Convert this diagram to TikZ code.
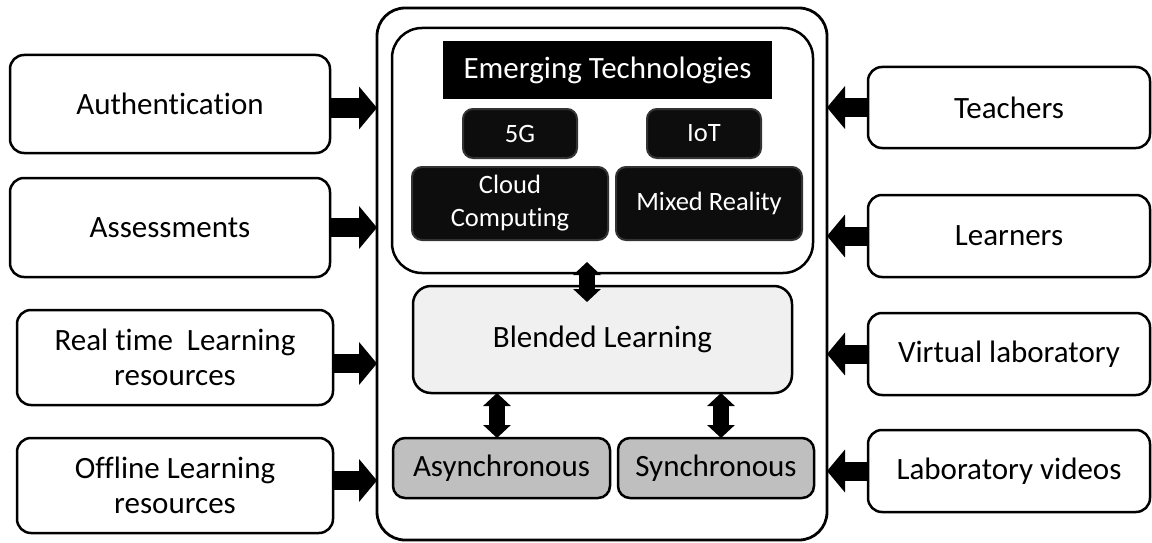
\documentclass[tikz,border=0pt]{standalone}
\usepackage{fontspec}
\setmainfont{Carlito}[Ligatures=NoCommon]
\usetikzlibrary{arrows.meta}
\begin{document}
\begin{tikzpicture}[x=1pt,y=-1pt,
  sidebox/.style={draw=black, line width=2.5pt, rounded corners=14pt, fill=white,
    inner sep=0pt, outer sep=0pt, align=center,
    font=\fontsize{31}{35}\selectfont},
  darkbox/.style={draw=black!80, line width=2pt, rounded corners=10pt, fill=black!95,
    text=white, inner sep=0pt, outer sep=0pt, align=center,
    font=\fontsize{26.5}{33}\selectfont},
  greybox/.style={draw=black, line width=2.5pt, rounded corners=12pt,
    inner sep=0pt, outer sep=0pt, align=center, font=\fontsize{31}{35}\selectfont},
  inarrow/.style={line width=19pt, -{Triangle[length=18pt,width=42pt]}},
  dblarrow/.style={line width=16pt, {Triangle[length=13pt,width=27pt]}-{Triangle[length=13pt,width=27pt]}}
]
\useasboundingbox (0,0) rectangle (1152,543);
% outer and inner frames
\node[draw=black, line width=2.8pt, rounded corners=28pt, minimum width=450pt, minimum height=532pt, inner sep=0pt, outer sep=0pt] (outer) at (602,274) {};
\node[draw=black, line width=2.5pt, rounded corners=30pt, minimum width=421pt, minimum height=245pt, inner sep=0pt, outer sep=0pt] (inner) at (602.5,150.5) {};
% emerging technologies
\node[fill=black, text=white, minimum width=329pt, minimum height=58pt, inner sep=0pt, font=\fontsize{31}{35}\selectfont] (emerg) at (607.5,70) {Emerging Technologies};
\node[darkbox, minimum width=114pt, minimum height=49pt] (g5) at (520,133.5) {5G};
\node[darkbox, minimum width=114pt, minimum height=49pt] (iot) at (704,133.5) {IoT};
\node[darkbox, minimum width=196pt, minimum height=73pt] (cloud) at (510,203.5) {Cloud\\Computing};
\node[darkbox, minimum width=186pt, minimum height=73pt] (mixed) at (709,203.5) {Mixed Reality};
% blended learning
\node[greybox, fill=black!6, rounded corners=18pt, minimum width=379pt, minimum height=107pt] (blend) at (602.5,339.5) {Blended Learning};
\node[greybox, fill=black!25, minimum width=217pt, minimum height=60pt] (async) at (501.5,468) {Asynchronous};
\node[greybox, fill=black!25, minimum width=196pt, minimum height=60pt] (sync) at (716,468) {Synchronous};
% left boxes
\node[sidebox, minimum width=320pt, minimum height=98pt] (auth) at (170,104) {Authentication};
\node[sidebox, minimum width=320pt, minimum height=99pt] (assess) at (170,227.5) {Assessments};
\node[sidebox, minimum width=316pt, minimum height=95pt] (real) at (175,357.5) {Real time~ Learning\\resources};
\node[sidebox, minimum width=316pt, minimum height=95pt] (off) at (175,485.5) {Offline Learning\\resources};
% right boxes
\node[sidebox, minimum width=282pt, minimum height=81pt] (teach) at (1009,107.5) {Teachers};
\node[sidebox, minimum width=282pt, minimum height=82pt] (learn) at (1009,236) {Learners};
\node[sidebox, minimum width=282pt, minimum height=82pt] (virt) at (1009,354) {Virtual laboratory};
\node[sidebox, minimum width=282pt, minimum height=82pt] (labv) at (1009,471) {Laboratory videos};
% arrows into the frame
\draw[inarrow] ([yshift=-4pt]auth.east) -- ([yshift=-4pt]outer.west |- auth.east);
\draw[inarrow] (assess.east) -- (outer.west |- assess.east);
\draw[inarrow] ([yshift=-6pt]real.east) -- ([yshift=-6pt]outer.west |- real.east);
\draw[inarrow] ([yshift=5pt]off.east) -- ([yshift=5pt]outer.west |- off.east);
\draw[inarrow] (teach.west) -- (outer.east |- teach.west);
\draw[inarrow] (learn.west) -- (outer.east |- learn.west);
\draw[inarrow] (virt.west) -- (outer.east |- virt.west);
\draw[inarrow] (labv.west) -- (outer.east |- labv.west);
% double arrows
\coordinate (ax) at (587,0);
\coordinate (bx) at (497,0);
\coordinate (cx) at (721,0);
\draw[dblarrow] ([yshift=11pt]inner.south -| ax) -- ([yshift=-16pt]blend.north -| ax);
\draw[dblarrow] (blend.south -| bx) -- (async.north -| bx);
\draw[dblarrow] (blend.south -| cx) -- (sync.north -| cx);
\end{tikzpicture}
\end{document}
